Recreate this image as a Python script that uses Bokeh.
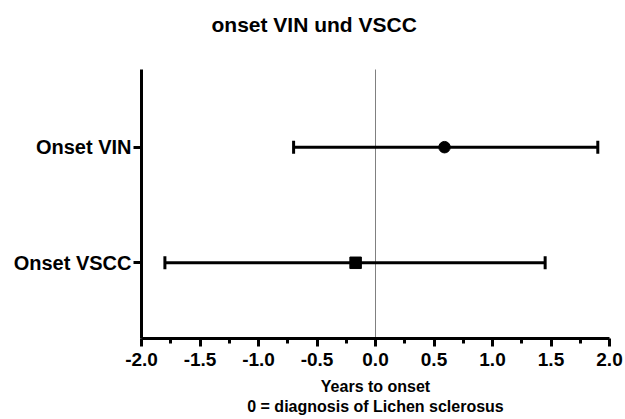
from bokeh.plotting import figure
from bokeh.models import (Range1d, FixedTicker, Whisker, TeeHead, Span, ColumnDataSource, Title)
from bokeh.embed import file_html
from bokeh.resources import INLINE

# Data
title_text = "onset VIN und VSCC"
categories = ["Onset VSCC", "Onset VIN"]
positions = [1, 2]
means = [-0.17, 0.59]
lower = [-1.80, -0.70]
upper = [1.45, 1.90]
markers = ["square", "circle"]
x_ticks = [-2.0, -1.5, -1.0, -0.5, 0.0, 0.5, 1.0, 1.5, 2.0]
x_minor = [-1.75, -1.25, -0.75, -0.25, 0.25, 0.75, 1.25, 1.75]

FONT = "Liberation Sans"

p = figure(width=625, height=419, output_backend="svg", toolbar_location=None,
           x_range=Range1d(-2.0, 2.0), y_range=Range1d(0.345, 2.672),
           min_border_left=141, min_border_top=68, min_border_right=16, min_border_bottom=81)

p.title = Title(text=title_text, align="left", offset=70,
                text_font=FONT, text_font_size="21px", text_font_style="bold",
                text_color="black", standoff=0,
                padding=dict(left=0, right=0, top=10, bottom=34))

p.xgrid.visible = False
p.ygrid.visible = False
p.outline_line_color = None
p.background_fill_color = "white"
p.border_fill_color = "white"

src = ColumnDataSource(dict(y=positions, mean=means, lower=lower, upper=upper, marker=markers))

p.add_layout(Span(location=0, dimension="height", line_color="black",
                  line_width=1, line_dash="1 1"))

w = Whisker(source=src, base="y", lower="lower", upper="upper", dimension="width",
            line_color="black", line_width=3,
            lower_head=TeeHead(size=13, line_color="black", line_width=3),
            upper_head=TeeHead(size=13, line_color="black", line_width=3))
p.add_layout(w)

p.scatter(x="mean", y="y", marker="marker", source=src, size=11.5,
          fill_color="black", line_color="black")

# X axis
xa = p.xaxis[0]
xa.ticker = FixedTicker(ticks=x_ticks, minor_ticks=x_minor)
xa.major_label_overrides = {t: f"{t:.1f}" for t in x_ticks}
xa.axis_line_width = 3
xa.major_tick_line_width = 3
xa.minor_tick_line_width = 3
xa.major_tick_out = 8
xa.major_tick_in = 0
xa.minor_tick_out = 5
xa.minor_tick_in = 0
xa.major_label_text_font = FONT
xa.major_label_text_font_style = "bold"
xa.major_label_text_font_size = "19px"
xa.major_label_text_color = "black"
xa.major_label_standoff = 6
xa.axis_label = "Years to onset\n0 = diagnosis of Lichen sclerosus"
xa.axis_label_text_font = FONT
xa.axis_label_text_font_style = "bold"
xa.axis_label_text_font_size = "16px"
xa.axis_label_text_color = "black"
xa.axis_label_standoff = 9

# Y axis
ya = p.yaxis[0]
ya.ticker = FixedTicker(ticks=positions, minor_ticks=[])
ya.major_label_overrides = {pos: c for pos, c in zip(positions, categories)}
ya.axis_line_width = 3
ya.major_tick_line_width = 3
ya.major_tick_out = 8
ya.major_tick_in = 0
ya.minor_tick_line_color = None
ya.major_label_text_font = FONT
ya.major_label_text_font_style = "bold"
ya.major_label_text_font_size = "20px"
ya.major_label_text_color = "black"
ya.major_label_standoff = 2

open("out.html", "w").write(file_html(p, INLINE))
